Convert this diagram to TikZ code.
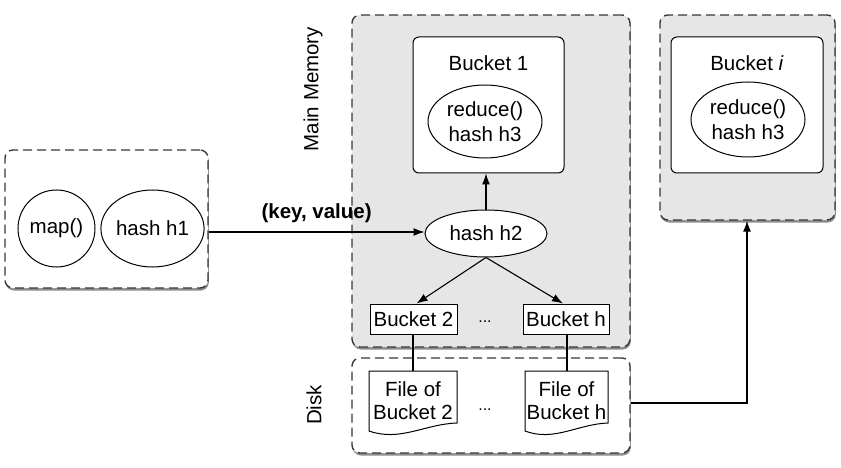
\documentclass[tikz,border=0pt]{standalone}
\usepackage{fontspec}
\setmainfont{Liberation Sans}
\usetikzlibrary{arrows.meta,shadows,calc,shapes.geometric}
\definecolor{boxgray}{HTML}{E6E6E6}
\definecolor{dashgray}{HTML}{383838}
\tikzset{
  every node/.style={font=\fontsize{20.5}{24}\selectfont, inner sep=0pt, align=center},
  region/.style={draw=dashgray, line width=1.4pt, dash pattern=on 9pt off 5pt,
    rounded corners=8pt,
    drop shadow={shadow xshift=0.8pt, shadow yshift=-2.5pt, opacity=0.45, fill=black}},
  memregion/.style={region, fill=boxgray},
  diskregion/.style={region, fill=white},
  bucketbox/.style={draw, fill=white, line width=1pt, rounded corners=6pt},
  smallbox/.style={draw, fill=white, line width=1pt},
  oval/.style={draw, fill=white, ellipse, line width=1pt},
  conn/.style={line width=1.1pt},
  arr/.style={conn, -{Latex[length=11pt,width=8pt]}},
  docpath/.style={draw, fill=white, line width=1pt},
}
\begin{document}
\begin{tikzpicture}[x=1pt,y=-1pt]
\useasboundingbox (0,0) rectangle (841,468);

% outer regions
\node[region, fill=white, minimum width=203pt, minimum height=138pt] (left) at (106.5,219) {};
\node[memregion, minimum width=278pt, minimum height=332pt] (mem) at (491,181) {};
\node[diskregion, minimum width=278pt, minimum height=95pt] (disk) at (491,405.5) {};
\node[memregion, minimum width=175pt, minimum height=205pt] (bi) at (747.5,117.5) {};

% side labels
\node[rotate=90] (memlabel) at (313,89) {Main Memory};
\node[rotate=90] (disklabel) at (314,405) {Disk};

% left box contents
\node[oval, minimum width=77pt, minimum height=77pt] (map) at (56.5,228.5) {map()};
\node[oval, minimum width=99pt, minimum height=77pt] (h1) at (152.5,228.5) {hash h1};

% Bucket 1
\node[bucketbox, minimum width=151pt, minimum height=136pt] (b1) at (488.5,105) {};
\node (b1label) at (488.5,63) {Bucket 1};
\node[oval, minimum width=114pt, minimum height=73pt] (r1) at (485,121.5) {reduce()\\[1pt]hash h3};

% Bucket i
\node[bucketbox, minimum width=152pt, minimum height=136pt] (bin) at (747,105) {};
\node (bilabel) at (747,63) {Bucket \textit{i}};
\node[oval, minimum width=114pt, minimum height=75pt] (ri) at (748,119.5) {reduce()\\[1pt]hash h3};

% hash h2
\node[oval, minimum width=122pt, minimum height=47pt] (h2) at (486,233.5) {hash h2};

% small buckets
\node[smallbox, minimum width=87pt, minimum height=30pt] (b2) at (413.5,319) {Bucket 2};
\node[smallbox, minimum width=86pt, minimum height=30pt] (bh) at (566,319) {Bucket h};
\node[font=\fontsize{16}{20}\selectfont] (dots1) at (485,322) {...};

% files (document shapes)
\path[docpath] (369,371) -- (457,371) -- (457,423)
  .. controls (425,424) and (400,442) .. (369,431) -- cycle;
\path[docpath] (525,371) -- (608,371) -- (608,423)
  .. controls (578,424) and (554,442) .. (525,431) -- cycle;
\node (f2) at (413,401) {File of\\[-1pt]Bucket 2};
\node (fh) at (566.5,401) {File of\\[-1pt]Bucket h};
\coordinate (f2top) at (413,371);
\coordinate (fhtop) at (567,371);
\node[font=\fontsize{16}{20}\selectfont] (dots2) at (485,410) {...};

% connectors
\draw[arr] (left.east |- 0,232) -- node[above=9pt, font=\fontsize{20.5}{24}\selectfont\bfseries] (kv) {(key, value)} (h2.west |- 0,232);
\draw[arr] (h2.north) -- (h2.north |- b1.south);
\draw[arr] (h2.south) -- ([xshift=3pt]b2.north);
\draw[arr] (h2.south) -- ([xshift=-3pt]bh.north);
\draw[conn] (b2.south -| f2top) -- (f2top);
\draw[conn] (bh.south -| fhtop) -- (fhtop);
\coordinate (turn) at (747,403);
\draw[arr] (disk.east |- turn) -- (turn) -- (turn |- bi.south);
\end{tikzpicture}
\end{document}
